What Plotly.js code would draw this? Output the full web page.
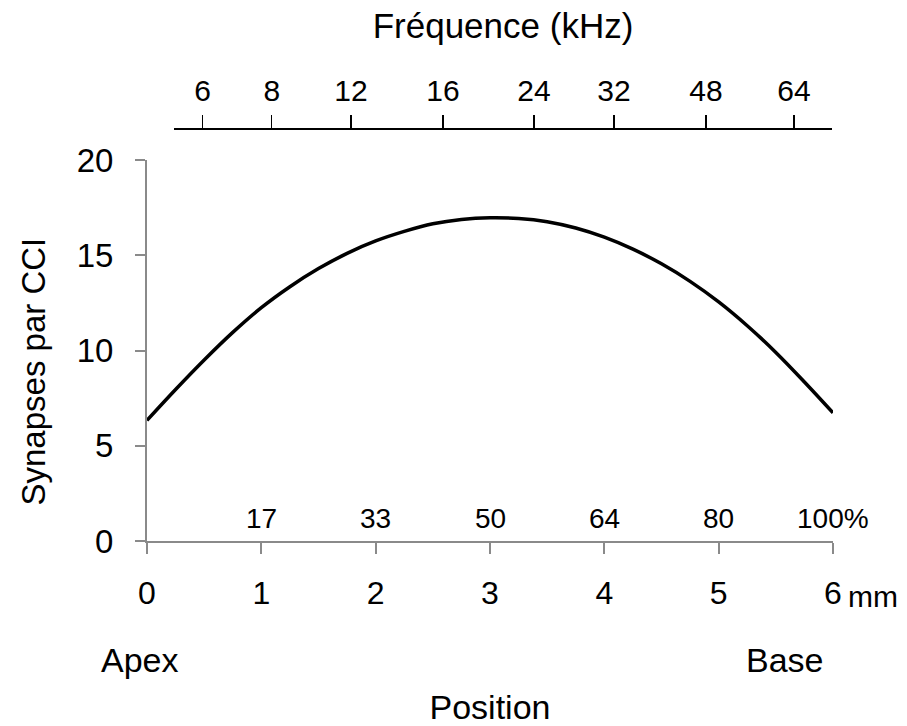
<!DOCTYPE html>
<html>
<head>
<meta charset="utf-8">
<script src="https://cdn.plot.ly/plotly-3.0.1.min.js"></script>
<style>html,body{margin:0;padding:0;background:#fff;}#chart{width:907px;height:726px;}</style>
</head>
<body>
<div id="chart"></div>
<script>
// Position along the cochlea (mm) and synapses per inner hair cell
const positionMm = [0, 0.25, 0.5, 0.75, 1, 1.25, 1.5, 1.75, 2, 2.25, 2.5, 2.75, 3, 3.25, 3.5, 3.75, 4, 4.25, 4.5, 4.75, 5, 5.25, 5.5, 5.75, 6];
const synapses = [6.33, 7.95, 9.5, 10.95, 12.25, 13.35, 14.3, 15.1, 15.75, 16.25, 16.65, 16.88, 16.97, 16.93, 16.76, 16.43, 15.95, 15.32, 14.55, 13.63, 12.55, 11.3, 9.9, 8.35, 6.73];

// Bottom axis ticks (mm)
const mmTicks = [0, 1, 2, 3, 4, 5, 6];
// Percent of cochlear length at each mm tick
const percentPos = [1, 2, 3, 4, 5, 6];
const percentLabels = ["17", "33", "50", "64", "80", "100%"];

// Frequency scale (top axis): positions in mm and labels in kHz
const freqPosMm = [0.487, 1.091, 1.784, 2.589, 3.385, 4.085, 4.889, 5.659];
const freqLabels = ["6", "8", "12", "16", "24", "32", "48", "64"];

const FONT = "Liberation Sans, Arial, sans-serif";
const gray = "#8a8a8a";

// pixel geometry helpers
const plotLeft = 147, plotRight = 833, topAxisLeft = 174, topAxisRight = 832;
const plotW = plotRight - plotLeft, plotH = 413;
const d0 = (topAxisLeft - plotLeft) / plotW, d1 = (topAxisRight - plotLeft) / plotW;
const xMax = 6;

const traces = [
  {
    x: positionMm, y: synapses, type: "scatter", mode: "lines",
    line: {color: "#000", width: 3.5, shape: "spline"},
    xaxis: "x", yaxis: "y", hoverinfo: "x+y", showlegend: false, cliponaxis: false
  },
  {
    x: freqPosMm, y: freqPosMm.map(() => null), type: "scatter", mode: "markers",
    marker: {opacity: 0}, xaxis: "x2", yaxis: "y", hoverinfo: "skip", showlegend: false
  }
];

const annotations = [];
percentPos.forEach((p, i) => annotations.push({
  x: p, xref: "x", y: 0, yref: "paper", yanchor: "middle", xanchor: "center",
  yshift: 23, text: percentLabels[i], showarrow: false,
  font: {family: FONT, size: 28, color: "#000"}
}));
annotations.push({
  x: 6, xref: "x", y: 0, yref: "paper", xanchor: "left", yanchor: "middle",
  xshift: 13, yshift: -55, text: "mm", showarrow: false,
  font: {family: FONT, size: 30, color: "#000"}
});
annotations.push({
  x: (140 - plotLeft) / plotW, xref: "paper", y: 0, yref: "paper", xanchor: "center", yanchor: "middle",
  yshift: -119, text: "Apex", showarrow: false, font: {family: FONT, size: 34, color: "#000"}
});
annotations.push({
  x: (785 - plotLeft) / plotW, xref: "paper", y: 0, yref: "paper", xanchor: "center", yanchor: "middle",
  yshift: -119, text: "Base", showarrow: false, font: {family: FONT, size: 34, color: "#000"}
});
// y-axis title
annotations.push({
  x: (32.5 - plotLeft) / plotW, xref: "paper", y: (541 - 372) / plotH, yref: "paper",
  xanchor: "center", yanchor: "middle", textangle: -90,
  text: "Synapses par CCI", showarrow: false, font: {family: FONT, size: 33, color: "#000"}
});

const layout = {
  width: 907, height: 726,
  margin: {l: 147, r: 74, t: 128, b: 185, pad: 0},
  paper_bgcolor: "#fff", plot_bgcolor: "rgba(0,0,0,0)",
  font: {family: FONT, color: "#000"},
  showlegend: false,
  xaxis: {
    range: [0, xMax], tickvals: mmTicks, ticktext: mmTicks.map(String),
    showgrid: false, zeroline: false, showline: true, linecolor: gray, linewidth: 2,
    ticks: "outside", ticklen: 11, tickwidth: 2, tickcolor: gray,
    tickfont: {family: FONT, size: 32, color: "#000"}, ticklabelstandoff: 12,
    title: {text: "Position", font: {family: FONT, size: 34, color: "#000"}, standoff: 88},
    anchor: "y", fixedrange: true
  },
  xaxis2: {
    domain: [d0, d1], range: [d0 * xMax, d1 * xMax], anchor: "free", position: 1, side: "top",
    tickvals: freqPosMm, ticktext: freqLabels,
    showgrid: false, zeroline: false, showline: true, linecolor: "#000", linewidth: 1.5,
    ticks: "outside", ticklen: 13, tickwidth: 1.5, tickcolor: "#000",
    tickfont: {family: FONT, size: 30, color: "#000"}, ticklabelstandoff: 2,
    title: {text: "Fréquence (kHz)", font: {family: FONT, size: 35, color: "#000"}, standoff: 23},
    fixedrange: true
  },
  yaxis: {
    domain: [0, 381 / plotH], range: [0, 20], tickvals: [0, 5, 10, 15, 20],
    showgrid: false, zeroline: false, showline: true, linecolor: gray, linewidth: 2,
    ticks: "outside", ticklen: 10, tickwidth: 2, tickcolor: gray,
    tickfont: {family: FONT, size: 33, color: "#000"}, ticklabelstandoff: 15,
    anchor: "x", fixedrange: true
  },
  annotations: annotations
};

Plotly.newPlot("chart", traces, layout, {displayModeBar: false, staticPlot: true});
</script>
</body>
</html>
